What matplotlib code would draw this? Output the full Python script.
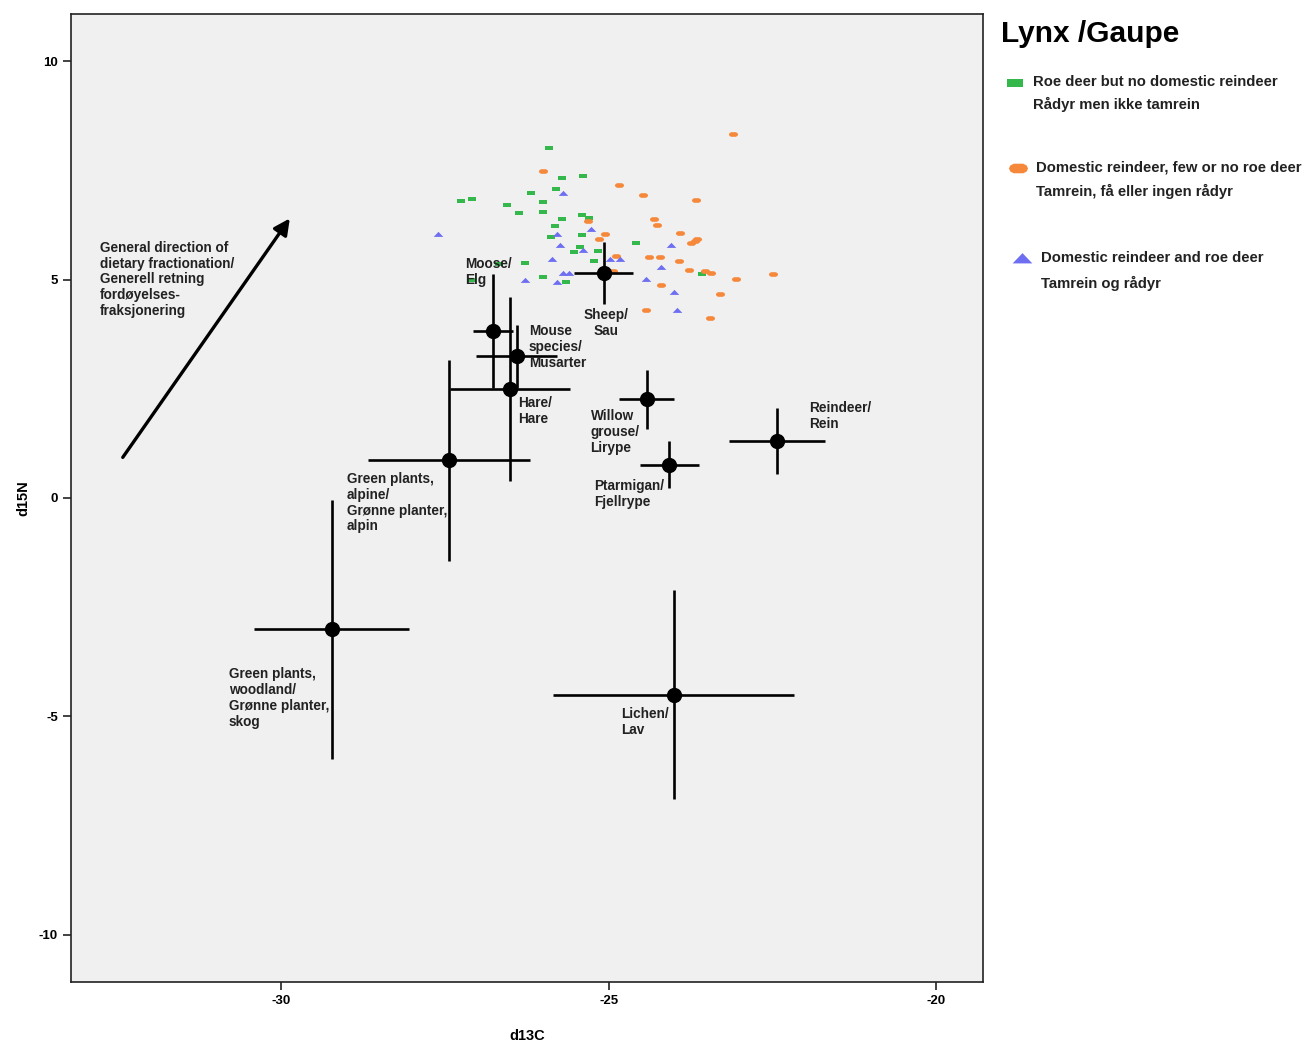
import matplotlib

matplotlib.use("Agg")
import matplotlib.pyplot as plt

plt.rcParams["font.family"] = ["Liberation Sans", "DejaVu Sans"]
plt.rcParams["axes.unicode_minus"] = False

# lynx samples, grouped by region type
roe_x = [-25.92, -25.72, -25.40, -25.81, -26.19, -27.26, -27.09, -26.01, -26.56, -26.37,
         -26.00, -25.72, -25.41, -25.31, -25.82, -25.89, -25.41, -25.44, -25.53, -25.17,
         -25.23, -26.28, -26.68, -26.00, -25.66, -27.11, -24.59, -23.58]
roe_y = [8.01, 7.33, 7.36, 7.08, 6.98, 6.80, 6.85, 6.78, 6.71, 6.53,
         6.55, 6.39, 6.48, 6.41, 6.22, 5.97, 6.01, 5.74, 5.63, 5.66,
         5.43, 5.38, 5.36, 5.06, 4.95, 5.00, 5.84, 5.13]

tam_x = [-26.01, -25.32, -25.06, -25.15, -23.11, -24.85, -24.48, -23.67, -24.31, -24.27,
         -23.92, -23.66, -23.69, -23.75, -24.89, -24.39, -24.22, -23.93, -23.78, -23.53,
         -23.44, -24.94, -23.06, -22.50, -24.21, -23.31, -24.44, -23.46]
tam_y = [7.49, 6.34, 6.05, 5.93, 8.34, 7.16, 6.94, 6.82, 6.39, 6.26,
         6.06, 5.94, 5.89, 5.83, 5.53, 5.51, 5.51, 5.43, 5.22, 5.20,
         5.15, 5.19, 5.01, 5.13, 4.88, 4.67, 4.30, 4.12]

both_x = [-25.70, -27.61, -25.79, -25.28, -25.75, -25.40, -25.87, -25.70, -25.61, -26.28,
          -25.79, -24.98, -24.83, -24.05, -24.21, -24.44, -24.01, -23.96]
both_y = [6.98, 6.05, 6.05, 6.16, 5.79, 5.68, 5.47, 5.15, 5.15, 4.99,
          4.95, 5.47, 5.47, 5.79, 5.29, 5.02, 4.72, 4.30]

# prey means with spread
prey_labels = [
    "Moose/\nElg",
    "Mouse\nspecies/\nMusarter",
    "Hare/\nHare",
    "Green plants,\nalpine/\nGrønne planter,\nalpin",
    "Green plants,\nwoodland/\nGrønne planter,\nskog",
    "Lichen/\nLav",
    "Sheep/\nSau",
    "Willow\ngrouse/\nLirype",
    "Ptarmigan/\nFjellrype",
    "Reindeer/\nRein",
]
prey_x = [-26.77, -26.41, -26.51, -27.44, -29.23, -24.01, -25.08, -24.42, -24.08, -22.43]
prey_y = [3.82, 3.24, 2.49, 0.86, -3.01, -4.50, 5.15, 2.26, 0.76, 1.31]
prey_xerr = [0.30, 0.62, 0.92, 1.24, 1.18, 1.84, 0.45, 0.42, 0.45, 0.73]
prey_yerr = [1.31, 0.73, 2.11, 2.31, 2.97, 2.40, 0.72, 0.68, 0.54, 0.75]

legend_lines = [
    ("Roe deer but no domestic reindeer", "Rådyr men ikke tamrein"),
    ("Domestic reindeer, few or no roe deer", "Tamrein, få eller ingen rådyr"),
    ("Domestic reindeer and roe deer", "Tamrein og rådyr"),
]

# layout: label anchors (data coords, top-left unless centred)
label_pos = [(-27.20, 5.52), (-26.22, 3.98), (-26.39, 2.34), (-29.00, 0.60), (-30.80, -3.87),
             (-24.82, -4.79), (-25.05, 4.35), (-25.28, 2.04), (-25.23, 0.44), (-21.95, 2.22)]
label_ha = ["left"] * 6 + ["center"] + ["left"] * 3

GREEN = "#35b84b"
ORANGE = "#f5883a"
BLUE = "#6e6ef2"

rect_marker = [(-1, -0.5), (1, -0.5), (1, 0.5), (-1, 0.5), (-1, -0.5)]
ell_marker = [(-1, 0), (-0.85, 0.32), (-0.5, 0.5), (0.5, 0.5), (0.85, 0.32), (1, 0),
              (0.85, -0.32), (0.5, -0.5), (-0.5, -0.5), (-0.85, -0.32), (-1, 0)]
tri_marker = [(-1, -0.5), (1, -0.5), (0, 0.55), (-1, -0.5)]

fig = plt.figure(figsize=(13.08, 10.44), dpi=100)
ax = fig.add_axes([71 / 1308, 1 - 982 / 1044, 912 / 1308, 968 / 1044])
ax.set_facecolor("#f0f0f0")

ax.scatter(roe_x, roe_y, marker=rect_marker, s=40, color=GREEN, linewidths=0, zorder=3)
ax.scatter(tam_x, tam_y, marker=ell_marker, s=44, color=ORANGE, linewidths=0, zorder=3)
ax.scatter(both_x, both_y, marker=tri_marker, s=48, color=BLUE, linewidths=0, zorder=3)

ax.errorbar(prey_x, prey_y, xerr=prey_xerr, yerr=prey_yerr, fmt="o", color="black",
            ms=10, elinewidth=1.9, capsize=0, zorder=4)

for text, (lx, ly), ha in zip(prey_labels, label_pos, label_ha):
    ax.text(lx, ly, text, ha=ha, va="top", multialignment=ha, fontsize=9.8,
            fontweight="bold", color="#222222", linespacing=1.17, zorder=5)

ax.annotate("", xy=(-29.87, 6.40), xytext=(-32.42, 0.93),
            arrowprops=dict(arrowstyle="-|>", lw=2.4, color="black", mutation_scale=24,
                            shrinkA=0, shrinkB=0))
ax.text(-32.77, 5.89,
        "General direction of\ndietary fractionation/\nGenerell retning\nfordøyelses-\nfraksjonering",
        ha="left", va="top", fontsize=9.8, fontweight="bold", color="#222222", linespacing=1.17)

ax.set_xlim(-33.21, -19.29)
ax.set_ylim(-11.08, 11.08)
ax.set_xticks([-30, -25, -20])
ax.set_yticks([-10, -5, 0, 5, 10])
ax.tick_params(direction="out", length=6, width=1.2, labelsize=9.5, color="#222222")
for lab in ax.get_xticklabels() + ax.get_yticklabels():
    lab.set_fontweight("bold")
for sp in ax.spines.values():
    sp.set_linewidth(1.2)
    sp.set_color("#222222")
ax.set_xlabel("d13C", fontsize=10.5, fontweight="bold", labelpad=16)
ax.set_ylabel("d15N", fontsize=10.5, fontweight="bold", labelpad=6)

# legend drawn on an overlay in pixel units
lg = fig.add_axes([0, 0, 1, 1], zorder=10)
lg.set_xlim(0, 1308)
lg.set_ylim(1044, 0)
lg.axis("off")
lg.text(1001, 34, "Lynx /Gaupe", fontsize=21.5, fontweight="bold", va="center", ha="left")

leg_markers = [
    dict(x=1015, y=83, marker=rect_marker, s=120, color=GREEN),
    dict(x=1018, y=168, marker=ell_marker, s=190, color=ORANGE),
    dict(x=1022, y=258, marker=tri_marker, s=200, color=BLUE),
]
leg_text_x = [1033, 1036, 1041]
leg_text_y = [(82, 104), (168, 191), (258, 283)]
for m, tx, (y1, y2), (l1, l2) in zip(leg_markers, leg_text_x, leg_text_y, legend_lines):
    lg.scatter([m["x"]], [m["y"]], marker=m["marker"], s=m["s"], color=m["color"], linewidths=0)
    lg.text(tx, y1, l1, fontsize=10.7, fontweight="bold", color="#222222", va="center", ha="left")
    lg.text(tx, y2, l2, fontsize=10.7, fontweight="bold", color="#222222", va="center", ha="left")

fig.savefig("out.png", dpi=100, facecolor="white")
